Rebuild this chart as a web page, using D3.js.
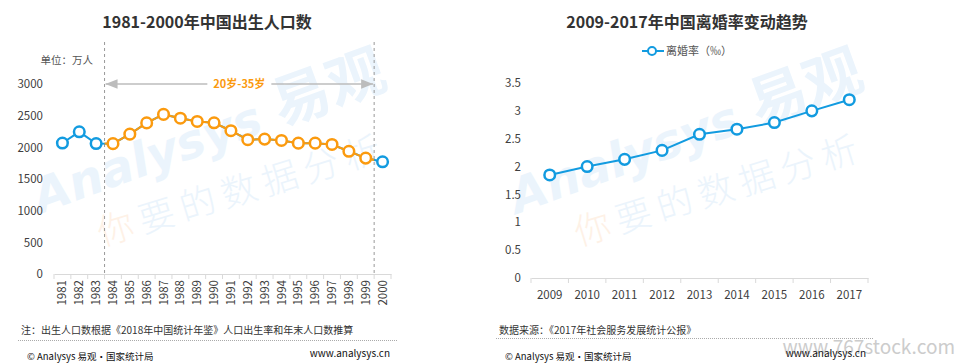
<!DOCTYPE html>
<html>
<head>
<meta charset="utf-8">
<script src="https://cdn.jsdelivr.net/npm/d3@7"></script>
<style>
  body { margin: 0; background: #fff; }
  svg text { font-family: "Noto Sans CJK SC", "Noto Sans", sans-serif; }
</style>
</head>
<body>
<div id="chart"></div>
<script>
const width = 959;
const height = 363;

// left chart data
const birthYears = ["1981","1982","1983","1984","1985","1986","1987","1988","1989","1990",
    "1991","1992","1993","1994","1995","1996","1997","1998","1999","2000"];
const births = [2068, 2245, 2060, 2058, 2208, 2386, 2520, 2460, 2408, 2388,
    2262, 2120, 2130, 2108, 2066, 2066, 2045, 1938, 1830, 1772];
const birthTicks = [0, 500, 1000, 1500, 2000, 2500, 3000];
const ageRange = ["1984", "1999"];
const ageLabel = "20岁-35岁";

// right chart data
const divorceYears = ["2009","2010","2011","2012","2013","2014","2015","2016","2017"];
const divorceRate = [1.85, 2.0, 2.13, 2.29, 2.58, 2.67, 2.79, 3.0, 3.2];
const rateTicks = [0, 0.5, 1, 1.5, 2, 2.5, 3, 3.5];

const blue = "#129be0";
const orange = "#fb9a0e";
const textColor = "#404040";

const svg = d3.select("#chart")
    .append("svg")
    .attr("width", width)
    .attr("height", height);

// watermark helper
function watermark(dx) {
    const g = svg.append("g").attr("transform", `translate(${dx},0)`);
    const t1 = g.append("text")
        .attr("transform", "translate(40,214) rotate(-20)")
        .attr("fill", "#ebf4fc")
        .attr("font-weight", "bold");
    t1.append("tspan").attr("font-size", 48).attr("font-style", "italic")
        .attr("font-family", "DejaVu Sans").text("Analysys ");
    t1.append("tspan").attr("font-size", 58).text("易观");
    const t2 = g.append("text")
        .attr("transform", "translate(102,246) rotate(-17)")
        .attr("font-size", 36)
        .attr("font-weight", 300)
        .attr("letter-spacing", 7)
        .attr("fill", "#ebf4fc");
    t2.append("tspan").attr("fill", "#fef1e6").text("你");
    t2.append("tspan").text("要的数据分析");
}
watermark(0);
watermark(477);

// ---------- left chart ----------
const x1 = d3.scaleBand().domain(birthYears).range([54, 391]);
const y1 = d3.scaleLinear().domain([0, 3000]).range([274, 84]);

svg.append("text")
    .attr("x", 207).attr("y", 28)
    .attr("text-anchor", "middle")
    .attr("font-size", 16).attr("font-weight", "bold")
    .attr("fill", "#333")
    .text("1981-2000年中国出生人口数");

svg.append("text")
    .attr("x", 93).attr("y", 64)
    .attr("text-anchor", "end")
    .attr("font-size", 10.5)
    .attr("fill", "#555")
    .text("单位：万人");

const yAxis1 = svg.append("g")
    .attr("transform", "translate(43,0)")
    .call(d3.axisLeft(y1).tickValues(birthTicks).tickSize(0).tickPadding(0).tickFormat(d => d));
yAxis1.select(".domain").remove();
yAxis1.selectAll("text").attr("font-size", 11.5).attr("fill", textColor)
    .attr("font-family", "\"Noto Sans\", sans-serif");

const xAxis1 = svg.append("g")
    .attr("transform", "translate(0,274)")
    .call(d3.axisBottom(x1).tickSize(0));
xAxis1.select(".domain").attr("stroke", "#d9d9d9");
xAxis1.selectAll("text")
    .attr("font-size", 11.5).attr("fill", textColor)
    .attr("font-family", "\"Noto Sans\", sans-serif")
    .attr("text-anchor", "end")
    .attr("transform", "rotate(-90)")
    .attr("x", -6).attr("y", 0).attr("dy", "0.35em");
// boundary ticks
svg.append("g").selectAll("line")
    .data(birthYears.concat(["end"]))
    .join("line")
    .attr("x1", (d, i) => x1.range()[0] + i * x1.step())
    .attr("x2", (d, i) => x1.range()[0] + i * x1.step())
    .attr("y1", 274).attr("y2", 279)
    .attr("stroke", "#d9d9d9");

// dashed range lines
const xa = x1(ageRange[0]);
const xb = x1(ageRange[1]) + x1.bandwidth();
svg.append("g").selectAll("line")
    .data([xa, xb])
    .join("line")
    .attr("x1", d => d).attr("x2", d => d)
    .attr("y1", 42).attr("y2", 274)
    .attr("stroke", "#999").attr("stroke-dasharray", "3,3");

const defs = svg.append("defs");
["arrL", "arrR"].forEach(id => {
    defs.append("marker")
        .attr("id", id)
        .attr("viewBox", "0 0 10 10")
        .attr("refX", 10).attr("refY", 5)
        .attr("markerWidth", 8).attr("markerHeight", 8)
        .attr("orient", "auto")
        .append("path")
        .attr("d", "M0,1 L10,5 L0,9 Z")
        .attr("fill", "#bcbcbc");
});
const midX = (xa + xb) / 2;
svg.append("line")
    .attr("x1", midX - 32).attr("x2", xa + 1)
    .attr("y1", 84).attr("y2", 84)
    .attr("stroke", "#bcbcbc").attr("stroke-width", 1.5)
    .attr("marker-end", "url(#arrL)");
svg.append("line")
    .attr("x1", midX + 32).attr("x2", xb - 1)
    .attr("y1", 84).attr("y2", 84)
    .attr("stroke", "#bcbcbc").attr("stroke-width", 1.5)
    .attr("marker-end", "url(#arrR)");
svg.append("text")
    .attr("x", midX).attr("y", 88)
    .attr("text-anchor", "middle")
    .attr("font-size", 11).attr("font-weight", "bold")
    .attr("fill", orange)
    .text(ageLabel);

// line, blue outside the range and orange inside
const birthPts = birthYears.map((d, i) => ({ year: d, value: births[i] }));
const line1 = d3.line()
    .x(d => x1(d.year) + x1.bandwidth() / 2)
    .y(d => y1(d.value));

defs.append("clipPath").attr("id", "inRange")
    .append("rect").attr("x", xa).attr("y", 0).attr("width", xb - xa).attr("height", height);

svg.append("path")
    .datum(birthPts)
    .attr("d", line1)
    .attr("fill", "none").attr("stroke", blue).attr("stroke-width", 2);
svg.append("path")
    .datum(birthPts)
    .attr("d", line1)
    .attr("clip-path", "url(#inRange)")
    .attr("fill", "none").attr("stroke", orange).attr("stroke-width", 2);

const inRange = d => d.year >= ageRange[0] && d.year <= ageRange[1];
svg.append("g").selectAll("circle")
    .data(birthPts)
    .join("circle")
    .attr("cx", d => x1(d.year) + x1.bandwidth() / 2)
    .attr("cy", d => y1(d.value))
    .attr("r", 5.3)
    .attr("fill", "#fff")
    .attr("stroke", d => inRange(d) ? orange : blue)
    .attr("stroke-width", 2.5);

// ---------- right chart ----------
const x2 = d3.scaleBand().domain(divorceYears).range([531, 868]);
const y2 = d3.scaleLinear().domain([0, 3.5]).range([278, 83]);

svg.append("text")
    .attr("x", 687).attr("y", 28)
    .attr("text-anchor", "middle")
    .attr("font-size", 16).attr("font-weight", "bold")
    .attr("fill", "#333")
    .text("2009-2017年中国离婚率变动趋势");

// legend
const legend = svg.append("g").attr("transform", "translate(642,51)");
legend.append("line").attr("x1", 0).attr("x2", 22).attr("stroke", blue).attr("stroke-width", 2);
legend.append("circle").attr("cx", 10).attr("r", 4).attr("fill", "#fff")
    .attr("stroke", blue).attr("stroke-width", 2);
legend.append("text").attr("x", 24).attr("y", 4)
    .attr("font-size", 11).attr("fill", "#555")
    .text("离婚率（‰）");

const yAxis2 = svg.append("g")
    .attr("transform", "translate(521,0)")
    .call(d3.axisLeft(y2).tickValues(rateTicks).tickSize(0).tickPadding(0).tickFormat(d => d));
yAxis2.select(".domain").remove();
yAxis2.selectAll("text").attr("font-size", 11.5).attr("fill", textColor)
    .attr("font-family", "\"Noto Sans\", sans-serif");

const xAxis2 = svg.append("g")
    .attr("transform", "translate(0,278)")
    .call(d3.axisBottom(x2).tickSize(0).tickPadding(13));
xAxis2.select(".domain").attr("stroke", "#d9d9d9");
xAxis2.selectAll("text").attr("font-size", 11.5).attr("fill", textColor)
    .attr("font-family", "\"Noto Sans\", sans-serif");
svg.append("g").selectAll("line")
    .data(divorceYears.concat(["end"]))
    .join("line")
    .attr("x1", (d, i) => x2.range()[0] + i * x2.step())
    .attr("x2", (d, i) => x2.range()[0] + i * x2.step())
    .attr("y1", 278).attr("y2", 283)
    .attr("stroke", "#d9d9d9");

const ratePts = divorceYears.map((d, i) => ({ year: d, value: divorceRate[i] }));
svg.append("path")
    .datum(ratePts)
    .attr("d", d3.line()
        .x(d => x2(d.year) + x2.bandwidth() / 2)
        .y(d => y2(d.value)))
    .attr("fill", "none").attr("stroke", blue).attr("stroke-width", 2);
svg.append("g").selectAll("circle")
    .data(ratePts)
    .join("circle")
    .attr("cx", d => x2(d.year) + x2.bandwidth() / 2)
    .attr("cy", d => y2(d.value))
    .attr("r", 5.3)
    .attr("fill", "#fff")
    .attr("stroke", blue)
    .attr("stroke-width", 2.5);

// ---------- footers ----------
function footer(x0, x1e, note, sepY) {
    svg.append("text")
        .attr("x", x0 + 3).attr("y", 334)
        .attr("font-size", 10).attr("fill", "#333")
        .text(note);
    svg.append("line")
        .attr("x1", x0).attr("x2", x1e)
        .attr("y1", sepY).attr("y2", sepY)
        .attr("stroke", "#aaa").attr("stroke-dasharray", "1,1");
    svg.append("text")
        .attr("x", x0 + 9).attr("y", 360)
        .attr("font-size", 9.5).attr("fill", "#111")
        .text("© Analysys 易观·国家统计局");
}
footer(18, 397, "注：出生人口数根据《2018年中国统计年鉴》人口出生率和年末人口数推算", 340.5);
footer(496, 874, "数据来源：《2017年社会服务发展统计公报》", 338.5);

svg.append("text")
    .attr("x", 955).attr("y", 354)
    .attr("text-anchor", "end")
    .attr("font-size", 19).attr("font-family", "\"DejaVu Sans\", sans-serif")
    .attr("fill", "#cccccc")
    .text("www.767stock.com");

[390, 866].forEach(xr => {
    svg.append("text")
        .attr("x", xr).attr("y", 357)
        .attr("text-anchor", "end")
        .attr("font-size", 10).attr("fill", "#111")
        .attr("font-family", "\"Noto Sans\", sans-serif")
        .text("www.analysys.cn");
});
</script>
</body>
</html>
